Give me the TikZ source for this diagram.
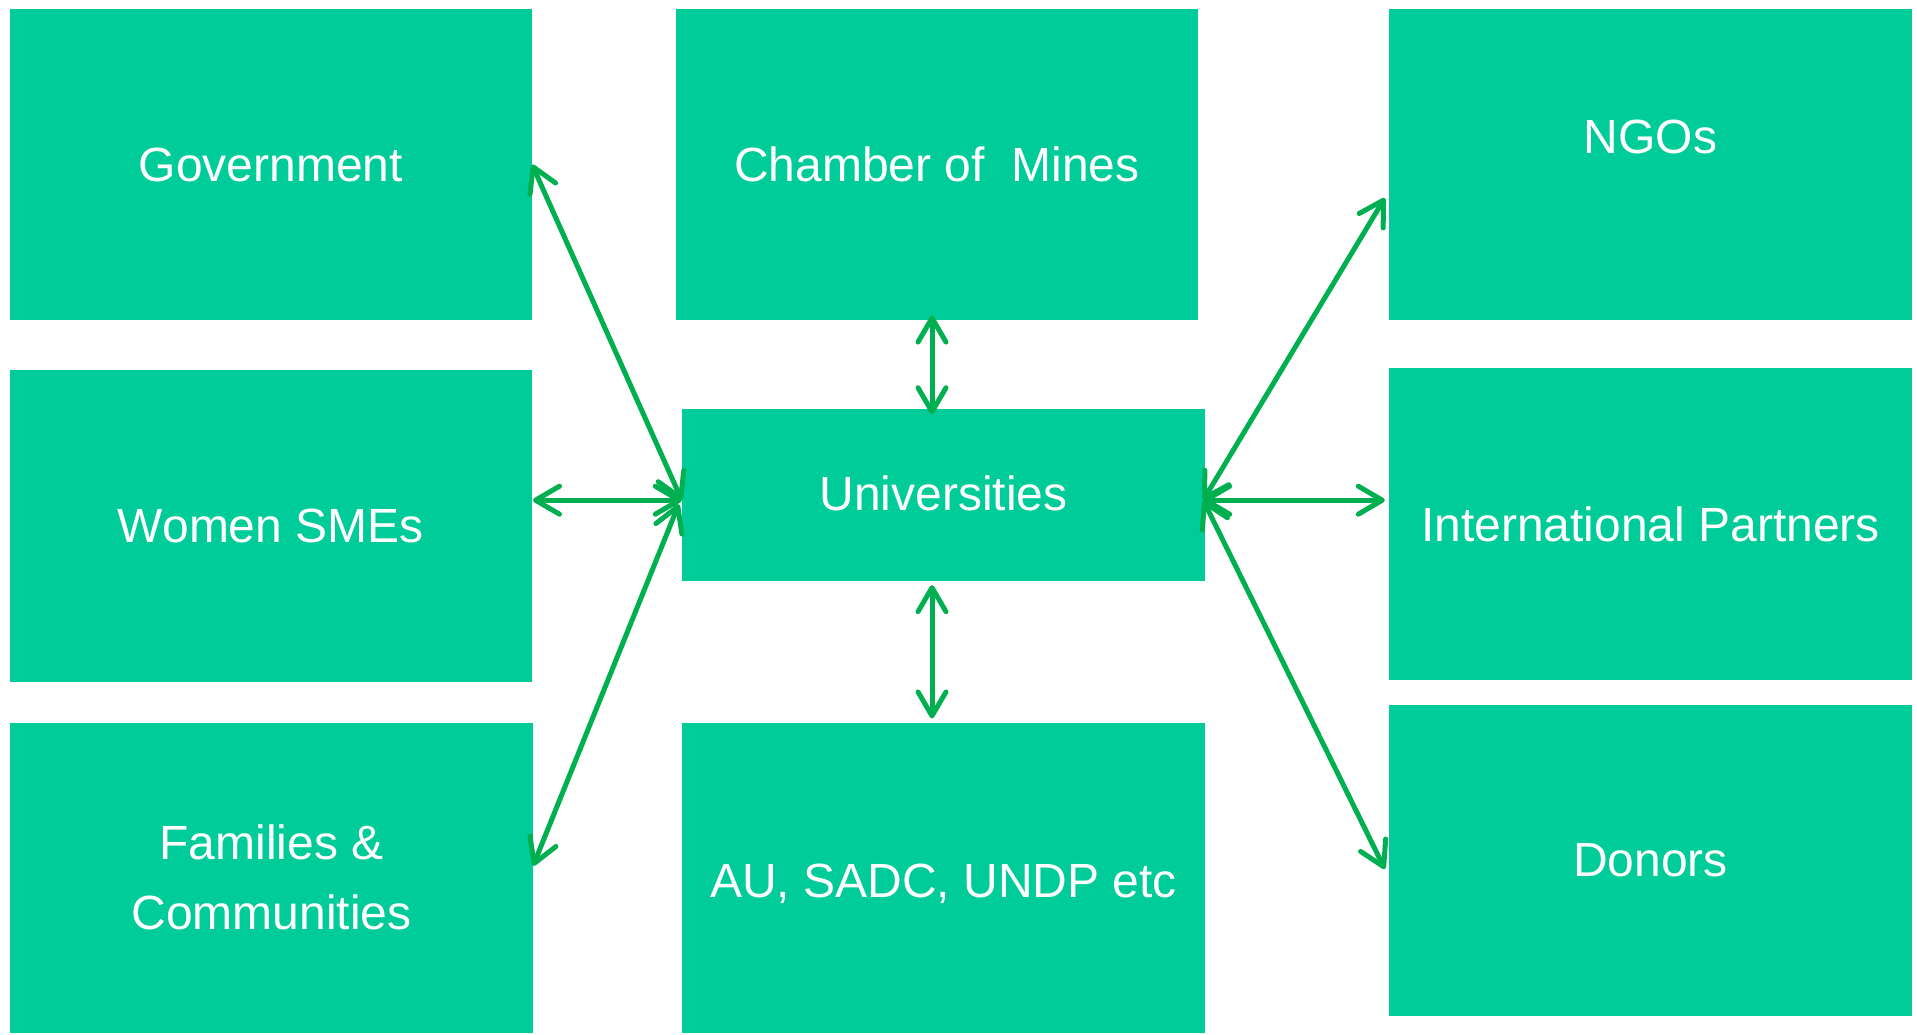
\documentclass[tikz,border=0pt]{standalone}
\usepackage{fontspec}
\setmainfont{Liberation Sans}
\usetikzlibrary{arrows.meta}
\definecolor{boxgreen}{HTML}{00CC99}
\definecolor{arrowgreen}{HTML}{00B050}
\tikzset{
  box/.style={fill=boxgreen, draw=none, inner sep=0pt, text=white, align=center,
    font=\fontsize{48}{70}\selectfont},
  boxtext/.style={inner sep=0pt, text=white, font=\fontsize{48}{70}\selectfont},
  link/.style={draw=arrowgreen, line width=5pt,
    {Straight Barb[length=24pt,width=28pt,round]}-{Straight Barb[length=24pt,width=28pt,round]}}
}
\begin{document}
\begin{tikzpicture}[x=1pt,y=-1pt]
\useasboundingbox (0,0) rectangle (1917,1034);
% boxes
\node[box, minimum width=522pt, minimum height=311.7pt] (gov)  at (270.8,164.5) {Government};
\node[box, minimum width=522pt, minimum height=311.7pt] (cham) at (937,164.5) {Chamber of\ \ Mines};
\node[box, minimum width=523pt, minimum height=311pt]   (ngo)  at (1650.5,164) {};
\node[boxtext] (ngotxt) at (1650.5,137) {NGOs};
\node[box, minimum width=522pt, minimum height=312pt]   (wom)  at (270.8,526) {Women SMEs};
\node[box, minimum width=523pt, minimum height=171.5pt] (uni)  at (943.5,495.2) {\raisebox{0pt}[\height][\dimexpr\depth+4pt\relax]{Universities}};
\node[box, minimum width=523pt, minimum height=311.5pt] (intl) at (1650.5,524.2) {International Partners};
\node[box, minimum width=523pt, minimum height=310.4pt] (fam)  at (271.4,877.8) {Families \&\\Communities};
\node[box, minimum width=523pt, minimum height=310.4pt] (au)   at (943.5,877.8) {\raisebox{0pt}[\dimexpr\height+12pt\relax][\depth]{AU, SADC, UNDP etc}};
\node[box, minimum width=523pt, minimum height=311pt]   (don)  at (1650.5,860.5) {Donors};
% anchor points on Universities
\coordinate (ul) at ([yshift=-5pt]uni.west);
\coordinate (ur) at ([xshift=-2pt,yshift=-5pt]uni.east);
% connectors
\draw[link] (gov.east) -- (ul);
\draw[link] ([xshift=1pt]wom.east |- ul) -- (ul);
\draw[link] ([yshift=12pt]fam.east) -- ([xshift=-3pt,yshift=-4pt]ul);
\draw[link] ([xshift=-5pt,yshift=5pt]cham.south) -- ([xshift=-11.5pt,yshift=-5pt]uni.north);
\draw[link] ([xshift=-11.5pt,yshift=-4pt]uni.south) -- ([xshift=-11.5pt,yshift=4pt]au.north);
\draw[link] (ur) -- ([xshift=-4pt,yshift=-34pt]ngo.west);
\draw[link] (ur) -- ([xshift=-4pt]ur -| intl.west);
\draw[link] (ur) -- ([xshift=-4pt,yshift=-8.5pt]don.west);
\end{tikzpicture}
\end{document}
